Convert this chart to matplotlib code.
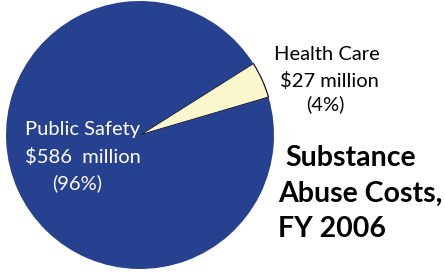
import matplotlib.pyplot as plt

labels = ["Health Care", "Public Safety"]
costs_millions = [27, 586]
shares = ["4%", "96%"]
colors = ["#FAF7CD", "#26418F"]

font = "Lato"

fig = plt.figure(figsize=(4.45, 2.76), dpi=100)
ax = fig.add_axes([0, 0, 1, 1])

wedges, _ = ax.pie(costs_millions, colors=colors, startangle=16.4,
                   center=(140, 141), radius=134, counterclock=True,
                   wedgeprops={"linewidth": 0})
# the small slice carries a thin black outline in the original
wedges[0].set_edgecolor("black")
wedges[0].set_linewidth(0.8)

ax.set_xlim(0, 445)
ax.set_ylim(0, 276)
ax.set_aspect("equal")
ax.axis("off")

# pie uses y up; flip label positions from image rows
H = 276
ax.text(327, H - 55, labels[0], ha="center", va="center", fontsize=14.5, family=font)
ax.text(329, H - 81, f"${costs_millions[0]} million", ha="center", va="center", fontsize=14.5, family=font)
ax.text(325, H - 104, f"({shares[0]})", ha="center", va="center", fontsize=14.5, family=font)

ax.text(83, H - 130, labels[1], ha="center", va="center", fontsize=14.5, family=font, color="white")
ax.text(83, H - 157, f"${costs_millions[1]}  million", ha="center", va="center", fontsize=14.5, family=font, color="white")
ax.text(77, H - 183, f"({shares[1]})", ha="center", va="center", fontsize=14.5, family=font, color="white")

ax.text(285, H - 158, "Substance", ha="left", va="center", fontsize=20.5, family=font, weight="bold")
ax.text(278, H - 194, "Abuse Costs,", ha="left", va="center", fontsize=20.5, family=font, weight="bold")
ax.text(278, H - 229, "FY 2006", ha="left", va="center", fontsize=20.5, family=font, weight="bold")

fig.savefig("out.png", dpi=100)
